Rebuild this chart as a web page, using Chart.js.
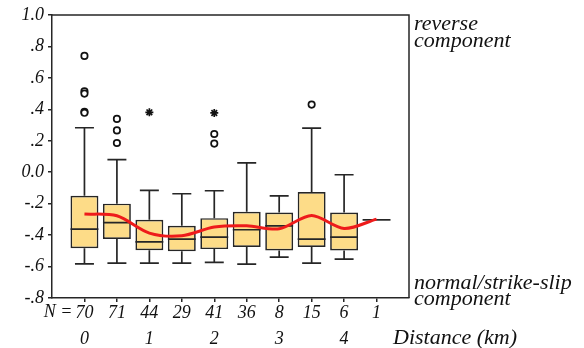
<!DOCTYPE html>
<html>
<head>
<meta charset="utf-8">
<script src="https://cdn.jsdelivr.net/npm/chart.js@4.4.0/dist/chart.umd.min.js"></script>
<style>
  html, body { margin: 0; padding: 0; background: #fff; }
  #wrap { width: 584px; height: 348px; }
</style>
</head>
<body>
<div id="wrap"><canvas id="boxChart"></canvas></div>
<script>
// Sample counts and distance labels per bin
const counts = [70, 71, 44, 29, 41, 36, 8, 15, 6, 1];
const distanceLabels = ['0', '', '1', '', '2', '', '3', '', '4', ''];

// Box statistics per bin
const whiskerHigh = [0.283, 0.08, -0.116, -0.137, -0.118, 0.059, -0.150, 0.281, -0.016, -0.303];
const q3 = [-0.150, -0.200, -0.303, -0.341, -0.292, -0.252, -0.256, -0.126, -0.256, -0.303];
const medians = [-0.362, -0.320, -0.443, -0.425, -0.413, -0.366, -0.341, -0.425, -0.413, -0.303];
const q1 = [-0.483, -0.425, -0.496, -0.502, -0.489, -0.476, -0.498, -0.476, -0.498, -0.303];
const whiskerLow = [-0.583, -0.578, -0.578, -0.578, -0.574, -0.585, -0.540, -0.578, -0.553, -0.303];

// Mean per bin (red line)
const means = [-0.266, -0.277, -0.387, -0.404, -0.349, -0.341, -0.360, -0.275, -0.358, -0.298];

// Outliers (circles) and extremes (stars): [bin, value]
const outliers = [[0, 0.74], [0, 0.515], [0, 0.50], [0, 0.385], [0, 0.378],
                  [1, 0.339], [1, 0.266], [1, 0.186],
                  [4, 0.243], [4, 0.182],
                  [7, 0.43]];
const extremes = [[2, 0.381], [4, 0.377]];

const yTicks = [1.0, 0.8, 0.6, 0.4, 0.2, 0.0, -0.2, -0.4, -0.6, -0.8];
const yTickLabels = ['1.0', '.8', '.6', '.4', '.2', '0.0', '-.2', '-.4', '-.6', '-.8'];

const ink = '#262626';
const serif = '"Liberation Serif", "DejaVu Serif", serif';

const boxPlugin = {
  id: 'boxParts',
  afterDatasetDraw(chart, args) {
    if (args.index !== 2) return;
    const ctx = chart.ctx;
    const x = chart.scales.x, y = chart.scales.y;
    const meta = chart.getDatasetMeta(2);
    ctx.save();
    ctx.strokeStyle = ink;
    ctx.lineWidth = 1.7;
    counts.forEach((n, i) => {
      const cx = x.getPixelForValue(i);
      const half = meta.data[i] && meta.data[i].width ? meta.data[i].width / 2 : 14;
      const cap = half * 0.68;
      ctx.beginPath();
      if (whiskerHigh[i] > q3[i]) {
        ctx.moveTo(cx, y.getPixelForValue(q3[i]));
        ctx.lineTo(cx, y.getPixelForValue(whiskerHigh[i]));
        ctx.moveTo(cx - cap, y.getPixelForValue(whiskerHigh[i]));
        ctx.lineTo(cx + cap, y.getPixelForValue(whiskerHigh[i]));
      }
      if (whiskerLow[i] < q1[i]) {
        ctx.moveTo(cx, y.getPixelForValue(q1[i]));
        ctx.lineTo(cx, y.getPixelForValue(whiskerLow[i]));
        ctx.moveTo(cx - cap, y.getPixelForValue(whiskerLow[i]));
        ctx.lineTo(cx + cap, y.getPixelForValue(whiskerLow[i]));
      }
      const my = y.getPixelForValue(medians[i]);
      ctx.moveTo(cx - half, my);
      ctx.lineTo(cx + half, my);
      ctx.stroke();
    });
    ctx.restore();
  },
  afterDraw(chart) {
    const ctx = chart.ctx;
    const a = chart.chartArea;
    const x = chart.scales.x;
    ctx.save();
    // frame on top and right
    ctx.strokeStyle = ink;
    ctx.lineWidth = 1.5;
    ctx.beginPath();
    ctx.moveTo(a.left, a.top);
    ctx.lineTo(a.right, a.top);
    ctx.lineTo(a.right, a.bottom);
    ctx.stroke();

    ctx.fillStyle = '#111';
    ctx.textBaseline = 'middle';
    ctx.font = 'italic 18px ' + serif;
    ctx.textAlign = 'right';
    const x0 = x.getPixelForValue(0);
    ctx.fillText('N =', x0 - 12, 312);

    ctx.font = 'italic 22px ' + serif;
    ctx.textAlign = 'left';
    ctx.fillText('reverse', a.right + 5, 24);
    ctx.fillText('component', a.right + 5, 41);
    ctx.fillText('normal/strike-slip', a.right + 5, 283);
    ctx.fillText('component', a.right + 5, 299);
    ctx.fillText('Distance (km)', 393, 338);
    ctx.restore();
  }
};

new Chart(document.getElementById('boxChart'), {
  data: {
    datasets: [
      {
        type: 'line',
        data: means.map((v, i) => ({ x: i, y: v })),
        borderColor: '#ee1b1b',
        borderWidth: 3,
        pointRadius: 0,
        tension: 0.3,
        order: 0
      },
      {
        type: 'scatter',
        data: outliers.map(p => ({ x: p[0], y: p[1] })),
        pointStyle: 'circle',
        pointRadius: 3.2,
        backgroundColor: '#fff',
        borderColor: '#111',
        borderWidth: 1.7,
        order: 1
      },
      {
        type: 'bar',
        data: counts.map((n, i) => ({ x: i, y: q3[i] === q1[i] ? null : [q1[i], q3[i]] })),
        backgroundColor: '#fddc88',
        borderColor: ink,
        borderWidth: 1.7,
        borderSkipped: false,
        barPercentage: 0.86,
        categoryPercentage: 1,
        order: 2
      },
      {
        type: 'scatter',
        data: extremes.map(p => ({ x: p[0], y: p[1] })),
        pointStyle: 'star',
        pointRadius: 4,
        borderColor: '#111',
        borderWidth: 1.7,
        order: 1
      }
    ]
  },
  options: {
    responsive: true,
    maintainAspectRatio: false,
    animation: false,
    layout: { padding: { top: 15, right: 175, left: 0, bottom: 0 } },
    plugins: { legend: { display: false }, tooltip: { enabled: false } },
    scales: {
      x: {
        type: 'linear',
        min: -1,
        max: 10,
        offset: false,
        afterBuildTicks(scale) {
          scale.ticks = counts.map((n, i) => ({ value: i }));
        },
        afterFit(scale) {
          scale.height = 50;
          scale.paddingLeft = 0;
          scale.paddingRight = 0;
        },
        ticks: {
          autoSkip: false,
          maxRotation: 0,
          padding: -2,
          color: '#111',
          font: { family: serif, size: 18, style: 'italic', lineHeight: 1.45 },
          callback: (v) => [String(counts[v]), distanceLabels[v]]
        },
        grid: { offset: false, drawOnChartArea: false, tickLength: 4, color: ink, lineWidth: 1.5 },
        border: { color: ink, width: 1.5 }
      },
      y: {
        min: -0.8,
        max: 1.0,
        afterBuildTicks(scale) {
          scale.ticks = yTicks.map(v => ({ value: v }));
        },
        afterFit(scale) {
          scale.width = 52;
          scale.paddingTop = 0;
          scale.paddingBottom = 0;
        },
        ticks: {
          padding: 4,
          color: '#111',
          font: { family: serif, size: 18, style: 'italic' },
          callback: (v, i) => yTickLabels[i]
        },
        grid: { drawOnChartArea: false, tickLength: 4, color: ink, lineWidth: 1.5 },
        border: { color: ink, width: 1.5 }
      }
    }
  },
  plugins: [boxPlugin]
});
</script>
</body>
</html>
